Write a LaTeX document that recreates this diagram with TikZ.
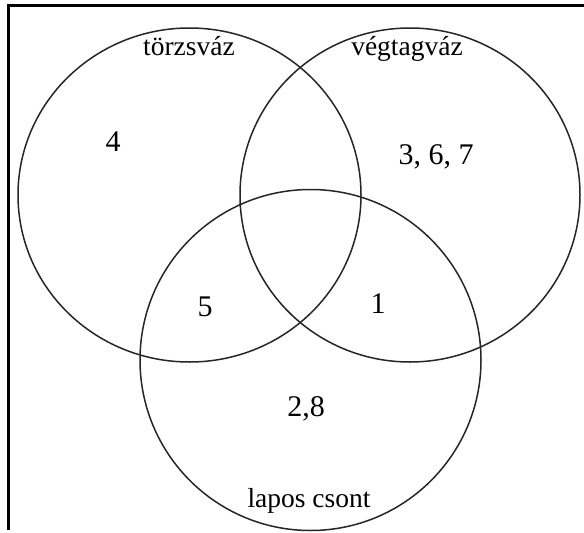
\documentclass[tikz,border=0pt]{standalone}
\usepackage{fontspec}
\setmainfont{Liberation Serif}
\begin{document}
\begin{tikzpicture}[x=1pt,y=-1pt,
  setc/.style={draw=black!85,line width=1.5pt},
  lbl/.style={font=\fontsize{27.5}{30}\selectfont,inner sep=0pt},
  num/.style={font=\fontsize{30}{33}\selectfont,inner sep=0pt}]
\useasboundingbox (0,0) rectangle (584,533);
\fill[white] (0,0) rectangle (584,533);
% frame
\draw[line width=3.5pt] (8.5,530) -- (8.5,5.5) -- (584,5.5);
% sets
\draw[setc] (189.5,195) ellipse [x radius=171.5, y radius=167];
\draw[setc] (410,195) ellipse [x radius=170, y radius=167];
\draw[setc] (310.5,360) circle [radius=170.5];
% labels
\node[lbl] (torzs) at (189,46) {törzsváz};
\node[lbl] (vegtag) at (407,49) {végtagváz};
\node[lbl] (lapos) at (309,501) {lapos csont};
\node[num] (n4) at (113,142) {4};
\node[num] (n367) at (436,157) {3, 6, 7};
\node[num] (n5) at (205,307) {5};
\node[num] (n1) at (378,304) {1};
\node[num] (n28) at (306,409) {2,8};
\end{tikzpicture}
\end{document}
